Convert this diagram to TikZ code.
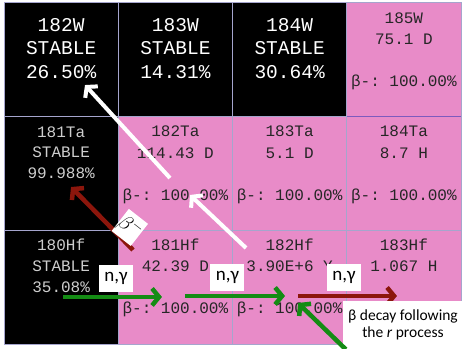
\documentclass[tikz,border=0pt]{standalone}
\usepackage{fontspec}
\setmainfont{Carlito}
\setmonofont{Liberation Mono}
\usetikzlibrary{positioning, arrows.meta}

\definecolor{cellpink}{RGB}{232,139,200}
\definecolor{gridline}{RGB}{165,165,205}
\definecolor{graytext}{RGB}{205,205,205}
\definecolor{ngreen}{RGB}{20,140,20}
\definecolor{betared}{RGB}{140,22,12}
\definecolor{edgepurple}{RGB}{125,90,190}

\tikzset{
  cell/.style={draw=gridline, line width=1pt, minimum width=114.25pt,
    minimum height=113.67pt, inner sep=0pt, outer sep=0pt},
  stablecell/.style={cell, fill=black},
  decaycell/.style={cell, fill=cellpink},
  wlabel/.style={anchor=base, inner sep=0pt, text=white,
    font=\ttfamily\fontsize{19.5}{20}\selectfont},
  glabel/.style={anchor=base, inner sep=0pt, text=graytext,
    font=\ttfamily\fontsize{16}{16}\selectfont},
  plabel/.style={anchor=base, inner sep=0pt, text=black!85,
    font=\ttfamily\fontsize{16}{16}\selectfont},
  ngarrow/.style={draw=ngreen, line width=4.5pt,
    -{Straight Barb[length=7pt, width=17pt]}},
  betaarrow/.style={draw=betared, line width=4.5pt,
    -{Straight Barb[length=7pt, width=17pt]}},
  whitearrow/.style={draw=white, line width=4pt,
    -{Straight Barb[length=7pt, width=17pt]}},
  ngbox/.style={fill=white, inner sep=1pt, minimum width=34pt,
    minimum height=27pt, font=\fontsize{19}{19}\selectfont},
  betabox/.style={fill=white, inner sep=0pt, rotate=-38, minimum width=23pt,
    minimum height=28pt, font=\fontsize{20}{20}\selectfont},
  notebox/.style={fill=white, inner sep=2pt, align=center, minimum width=120pt,
    minimum height=48pt, font=\fontsize{15.5}{17}\selectfont}
}

\begin{document}
\begin{tikzpicture}[x=1pt, y=-1pt]
    \useasboundingbox[fill=white] (0,0) rectangle (463,348);

    % chart cells: W on top, Ta in the middle, Hf at the bottom
    \node[stablecell] (w182) at (61.125,59.83) {};
    \node[stablecell, right=0pt of w182] (w183) {};
    \node[stablecell, right=0pt of w183] (w184) {};
    \node[decaycell, right=0pt of w184] (w185) {};
    \node[stablecell, below=0pt of w182] (ta181) {};
    \node[decaycell, right=0pt of ta181] (ta182) {};
    \node[decaycell, right=0pt of ta182] (ta183) {};
    \node[decaycell, right=0pt of ta183] (ta184) {};
    \node[stablecell, below=0pt of ta181] (hf180) {};
    \node[decaycell, right=0pt of hf180] (hf181) {};
    \node[decaycell, right=0pt of hf181] (hf182) {};
    \node[decaycell, right=0pt of hf182] (hf183) {};
    \draw[edgepurple, line width=1.5pt] (w185.south west) -- (w185.south east);

    % stable tungsten isotopes
    \foreach \c/\a/\b/\d in {w182/182W/STABLE/26.50\%, w183/183W/STABLE/14.31\%,
                             w184/184W/STABLE/30.64\%} {
        \node[wlabel] (\c a) at ([yshift=-29pt]\c.north) {\a};
        \node[wlabel] (\c b) at ([yshift=-51.7pt]\c.north) {\b};
        \node[wlabel] (\c c) at ([yshift=-75.7pt]\c.north) {\d};
    }

    % other stable isotopes
    \foreach \c/\a/\b/\d in {ta181/181Ta/STABLE/99.988\%, hf180/180Hf/STABLE/35.08\%} {
        \node[glabel] (\c a) at ([yshift=-20.6pt]\c.north) {\a};
        \node[glabel] (\c b) at ([yshift=-41.1pt]\c.north) {\b};
        \node[glabel] (\c c) at ([yshift=-62.1pt]\c.north) {\d};
    }

    % beta-unstable isotopes
    \foreach \c/\a/\b in {w185/185W/75.1 D, ta182/182Ta/114.43 D, ta183/183Ta/5.1 D,
                          ta184/184Ta/8.7 H, hf181/181Hf/42.39 D,
                          hf182/182Hf/3.90E+6 Y, hf183/183Hf/1.067 H} {
        \node[plabel] (\c a) at ([yshift=-20.3pt]\c.north) {\a};
        \node[plabel] (\c b) at ([yshift=-41.6pt]\c.north) {\b};
        \node[plabel] (\c c) at ([yshift=-83.6pt]\c.north) {β-: 100.00\%};
    }

    % decay arrows
    \draw[whitearrow] ([shift={(-43.6,-39.2)}]hf182.center) -- ([shift={(14.6,21.5)}]ta182.center);
    \draw[whitearrow] ([shift={(-5.4,4.5)}]ta182.center) -- ([shift={(23.9,25.2)}]w182.center);
    \draw[betaarrow] ([shift={(71.9,-37.2)}]hf180.center)
        -- node[betabox, pos=0.33, xshift=12.5pt, yshift=12pt] (betalab) {$\beta^-$}
        ([shift={(9.9,13.5)}]ta181.center);

    % neutron captures
    \draw[ngarrow] ([shift={(1.9,9.8)}]hf180.center)
        -- node[ngbox, pos=0.535, anchor=south, yshift=3pt] (ng1) {n,γ}
        ([shift={(-13.4,9.8)}]hf181.center);
    \draw[ngarrow] ([shift={(9.6,8.8)}]hf181.center)
        -- node[ngbox, pos=0.425, anchor=south, yshift=3pt] (ng2) {n,γ}
        ([shift={(-4.6,8.8)}]hf182.center);
    \draw[betaarrow] ([shift={(8.4,8.8)}]hf182.center)
        -- node[ngbox, pos=0.465, anchor=south, yshift=3pt] (ng3) {n,γ}
        ([shift={(-6.9,8.8)}]hf183.center);

    % r-process note
    \node[notebox] (rnote) at ([shift={(-0.9,38)}]hf183.center)
        {β decay following\\the \textit{r} process};
    \draw[ngarrow] ([xshift=3pt]rnote.south west) -- ([shift={(8.4,15.8)}]hf182.center);
\end{tikzpicture}
\end{document}
